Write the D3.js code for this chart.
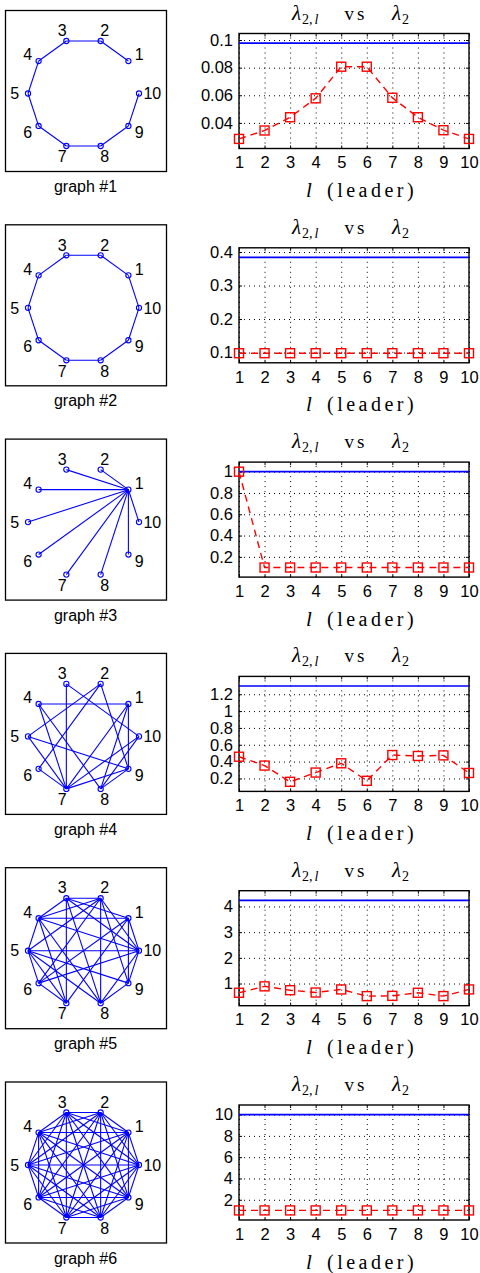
<!DOCTYPE html>
<html>
<head>
<meta charset="utf-8">
<script src="https://cdn.jsdelivr.net/npm/d3@7"></script>
<style>
  body { margin: 0; background: #fff; }
  .tick text { font-family: "Liberation Sans", Arial, sans-serif; font-size: 16.5px; fill: #000; }
  .tick line { stroke: #000; }
</style>
</head>
<body>
<script>
// Leaders on the x axis
const leaders = [1, 2, 3, 4, 5, 6, 7, 8, 9, 10];
const nodeIds = [1, 2, 3, 4, 5, 6, 7, 8, 9, 10];

// lambda_2 of each graph (blue line)
const lambda2 = [0.0978, 0.384, 1.0, 1.298, 4.24, 10.0];

// lambda_{2,l} for each leader (red squares)
const lambda2l1 = [0.0284, 0.0345, 0.0441, 0.0578, 0.0807, 0.0807, 0.0582, 0.0441, 0.0347, 0.0284];
const lambda2l2 = [0.098, 0.098, 0.098, 0.098, 0.098, 0.098, 0.098, 0.098, 0.098, 0.098];
const lambda2l3 = [1.0, 0.1, 0.1, 0.1, 0.1, 0.1, 0.1, 0.1, 0.1, 0.1];
const lambda2l4 = [0.458, 0.353, 0.16, 0.27, 0.38, 0.172, 0.478, 0.467, 0.474, 0.265];
const lambda2l5 = [0.64, 0.89, 0.74, 0.65, 0.77, 0.51, 0.52, 0.64, 0.51, 0.77];
const lambda2l6 = [1, 1, 1, 1, 1, 1, 1, 1, 1, 1];

// y tick values per chart
const yTicks1 = [0.04, 0.06, 0.08, 0.1];
const yTicks2 = [0.1, 0.2, 0.3, 0.4];
const yTicks3 = [0.2, 0.4, 0.6, 0.8, 1];
const yTicks4 = [0.2, 0.4, 0.6, 0.8, 1, 1.2];
const yTicks5 = [1, 2, 3, 4];
const yTicks6 = [2, 4, 6, 8, 10];

// graph edges
const edges1 = [[1, 2], [2, 3], [3, 4], [4, 5], [5, 6], [6, 7], [7, 8], [8, 9], [9, 10]];
const edges2 = [[1, 2], [2, 3], [3, 4], [4, 5], [5, 6], [6, 7], [7, 8], [8, 9], [9, 10], [10, 1]];
const edges3 = [[1, 2], [1, 3], [1, 4], [1, 5], [1, 6], [1, 7], [1, 8], [1, 9], [1, 10]];
const edges4 = [[1, 4], [1, 7], [1, 8], [1, 9], [2, 5], [2, 6], [2, 9], [3, 10], [3, 7],
  [4, 7], [4, 8], [5, 9], [5, 7], [6, 7], [7, 9], [7, 10], [8, 9], [8, 10]];
const edges5 = [[1, 4], [1, 10], [1, 9], [1, 3], [1, 6], [1, 7], [2, 3], [2, 4], [2, 5], [2, 6],
  [2, 8], [2, 9], [2, 10], [3, 4], [3, 8], [3, 10], [3, 7], [4, 5], [4, 10], [4, 7], [5, 6],
  [5, 10], [5, 8], [5, 9], [5, 7], [6, 7], [6, 10], [8, 10], [8, 9], [9, 10], [4, 8]];
const edges6 = [[1, 2], [1, 3], [1, 4], [1, 5], [1, 6], [1, 7], [1, 8], [1, 9], [1, 10],
  [2, 3], [2, 4], [2, 5], [2, 6], [2, 7], [2, 8], [2, 9], [2, 10],
  [3, 4], [3, 5], [3, 6], [3, 7], [3, 8], [3, 9], [3, 10],
  [4, 5], [4, 6], [4, 7], [4, 8], [4, 9], [4, 10],
  [5, 6], [5, 7], [5, 8], [5, 9], [5, 10],
  [6, 7], [6, 8], [6, 9], [6, 10],
  [7, 8], [7, 9], [7, 10],
  [8, 9], [8, 10],
  [9, 10]];

const panels = [
  { edges: edges1, values: lambda2l1, ticks: yTicks1 },
  { edges: edges2, values: lambda2l2, ticks: yTicks2 },
  { edges: edges3, values: lambda2l3, ticks: yTicks3 },
  { edges: edges4, values: lambda2l4, ticks: yTicks4 },
  { edges: edges5, values: lambda2l5, ticks: yTicks5 },
  { edges: edges6, values: lambda2l6, ticks: yTicks6 },
];

const svg = d3.select('body').append('svg')
  .attr('width', 480)
  .attr('height', 1273);

svg.append('rect').attr('width', 480).attr('height', 1273).attr('fill', '#fff');

const sans = '"Liberation Sans", Arial, sans-serif';
const serif = '"Liberation Serif", "Times New Roman", serif';
const blue = '#0000ff';
const red = '#ff0000';

panels.forEach((p, i) => {
  const top = 10 + (i * 214.3);

  // ---- left: the graph drawing ----
  const gl = svg.append('g');

  gl.append('rect')
    .attr('x', 5.5)
    .attr('y', top + 0.5)
    .attr('width', 161)
    .attr('height', 161)
    .attr('fill', 'none')
    .attr('stroke', '#000')
    .attr('stroke-width', 1.3);

  const nx = d3.scaleLinear().domain([-1, 1]).range([28, 139]);
  const ny = d3.scaleLinear().domain([-1, 1]).range([top + 83.5 + 55.2, top + 83.5 - 55.2]);
  const angle = k => (k * 36 * Math.PI) / 180;

  gl.selectAll('line.edge')
    .data(p.edges)
    .enter().append('line')
    .attr('class', 'edge')
    .attr('x1', d => nx(Math.cos(angle(d[0]))))
    .attr('y1', d => ny(Math.sin(angle(d[0]))))
    .attr('x2', d => nx(Math.cos(angle(d[1]))))
    .attr('y2', d => ny(Math.sin(angle(d[1]))))
    .attr('stroke', blue)
    .attr('stroke-width', 1.1);

  gl.selectAll('circle.node')
    .data(nodeIds)
    .enter().append('circle')
    .attr('class', 'node')
    .attr('cx', d => nx(Math.cos(angle(d))))
    .attr('cy', d => ny(Math.sin(angle(d))))
    .attr('r', 2.6)
    .attr('fill', 'none')
    .attr('stroke', blue)
    .attr('stroke-width', 1.1);

  gl.selectAll('text.node-label')
    .data(nodeIds)
    .enter().append('text')
    .attr('class', 'node-label')
    .attr('x', d => nx(1.24 * Math.cos(angle(d))))
    .attr('y', d => ny(1.2 * Math.sin(angle(d))))
    .attr('dy', '0.36em')
    .attr('text-anchor', 'middle')
    .style('font-family', sans)
    .style('font-size', '16px')
    .text(d => d);

  gl.append('text')
    .attr('x', 85.5)
    .attr('y', top + 182)
    .attr('text-anchor', 'middle')
    .style('font-family', sans)
    .style('font-size', '16px')
    .text(`graph #${i + 1}`);

  // ---- right: lambda plot ----
  const x0 = 239;
  const x1 = 469;
  const y0 = top + 23.5;
  const y1 = top + 138.5;
  const cx = (x0 + x1) / 2;

  const lo = d3.min(p.values.concat([lambda2[i]]));
  const hi = d3.max(p.values.concat([lambda2[i]]));
  const pad = (hi - lo) * 0.1;

  const x = d3.scaleLinear().domain([1, 10]).range([x0, x1]);
  const y = d3.scaleLinear().domain([lo - pad, hi + pad]).range([y1, y0]);

  const gr = svg.append('g');

  // dotted grid
  gr.append('g')
    .attr('transform', `translate(0, ${y1})`)
    .call(d3.axisBottom(x).tickValues(leaders).tickSize(-(y1 - y0)).tickFormat(''))
    .call(g => g.select('.domain').remove())
    .call(g => g.selectAll('.tick line')
      .attr('stroke-dasharray', '1,4').attr('stroke-width', 1));

  gr.append('g')
    .attr('transform', `translate(${x0}, 0)`)
    .call(d3.axisLeft(y).tickValues(p.ticks).tickSize(-(x1 - x0)).tickFormat(''))
    .call(g => g.select('.domain').remove())
    .call(g => g.selectAll('.tick line')
      .attr('stroke-dasharray', '1,4').attr('stroke-width', 1));

  // axes with inward ticks
  gr.append('g')
    .attr('transform', `translate(0, ${y1})`)
    .call(d3.axisBottom(x).tickValues(leaders).tickSize(-3).tickSizeOuter(0).tickPadding(8)
      .tickFormat(d3.format('d')))
    .call(g => g.select('.domain').remove());

  gr.append('g')
    .attr('transform', `translate(0, ${y0})`)
    .call(d3.axisTop(x).tickValues(leaders).tickSize(-3).tickSizeOuter(0).tickFormat(''))
    .call(g => g.select('.domain').remove());

  gr.append('g')
    .attr('transform', `translate(${x0}, 0)`)
    .call(d3.axisLeft(y).tickValues(p.ticks).tickSize(-3).tickSizeOuter(0).tickPadding(6)
      .tickFormat(d => String(d)))
    .call(g => g.select('.domain').remove());

  gr.append('g')
    .attr('transform', `translate(${x1}, 0)`)
    .call(d3.axisRight(y).tickValues(p.ticks).tickSize(-3).tickSizeOuter(0).tickFormat(''))
    .call(g => g.select('.domain').remove());

  gr.append('rect')
    .attr('x', x0)
    .attr('y', y0)
    .attr('width', x1 - x0)
    .attr('height', y1 - y0)
    .attr('fill', 'none')
    .attr('stroke', '#000')
    .attr('stroke-width', 1.4);

  // lambda_2 (blue)
  gr.append('path')
    .datum(leaders)
    .attr('d', d3.line().x(d => x(d)).y(() => y(lambda2[i])))
    .attr('fill', 'none')
    .attr('stroke', blue)
    .attr('stroke-width', 1.7);

  // lambda_{2,l} (red dashed with squares)
  const pts = leaders.map((l, k) => ({ l, v: p.values[k] }));

  gr.append('path')
    .datum(pts)
    .attr('d', d3.line().x(d => x(d.l)).y(d => y(d.v)))
    .attr('fill', 'none')
    .attr('stroke', red)
    .attr('stroke-width', 1.4)
    .attr('stroke-dasharray', '7,5');

  gr.selectAll('rect.marker')
    .data(pts)
    .enter().append('rect')
    .attr('class', 'marker')
    .attr('x', d => x(d.l) - 4.5)
    .attr('y', d => y(d.v) - 4.5)
    .attr('width', 9)
    .attr('height', 9)
    .attr('fill', 'none')
    .attr('stroke', red)
    .attr('stroke-width', 1.4);

  // title: lambda_{2,l}  vs  lambda_2
  const t1 = gr.append('text')
    .attr('x', cx - 62)
    .attr('y', top + 9.5)
    .style('font-family', serif);
  t1.append('tspan').style('font-style', 'italic').style('font-size', '21px').text('λ');
  t1.append('tspan').attr('dx', 1).attr('dy', 4).style('font-size', '14px').text('2,');
  t1.append('tspan').attr('dx', 2).style('font-style', 'italic').style('font-size', '14px').text('l');

  gr.append('text')
    .attr('x', cx + 2)
    .attr('y', top + 9.5)
    .attr('text-anchor', 'middle')
    .style('font-family', serif)
    .style('font-size', '19px')
    .style('letter-spacing', '3px')
    .text('vs');

  const t2 = gr.append('text')
    .attr('x', cx + 38)
    .attr('y', top + 9.5)
    .style('font-family', serif);
  t2.append('tspan').style('font-style', 'italic').style('font-size', '21px').text('λ');
  t2.append('tspan').attr('dx', 1).attr('dy', 4).style('font-size', '14px').text('2');

  // x label: l (leader)
  gr.append('text')
    .attr('x', cx - 48)
    .attr('y', top + 187)
    .style('font-family', serif)
    .style('font-style', 'italic')
    .style('font-size', '21px')
    .text('l');

  gr.append('text')
    .attr('x', cx - 27)
    .attr('y', top + 187)
    .style('font-family', serif)
    .style('font-size', '20px')
    .style('letter-spacing', '3.5px')
    .text('(leader)');
});
</script>
</body>
</html>
